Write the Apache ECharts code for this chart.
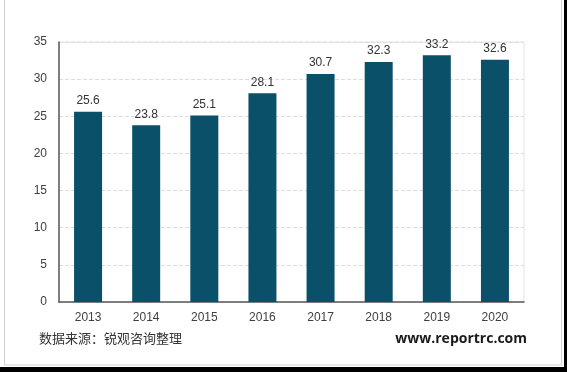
<!DOCTYPE html>
<html>
<head>
<meta charset="utf-8">
<script src="https://cdn.jsdelivr.net/npm/echarts@6/dist/echarts.min.js"></script>
<style>
html,body{margin:0;padding:0;background:#fff;}
#c{width:567px;height:372px;}
</style>
</head>
<body>
<div id="c"></div>
<script>
const categories = ['2013','2014','2015','2016','2017','2018','2019','2020'];
const values = [25.6, 23.8, 25.1, 28.1, 30.7, 32.3, 33.2, 32.6];
const yTicks = [0,5,10,15,20,25,30,35];
const sourceText = '数据来源：锐观咨询整理';
const siteText = 'www.reportrc.com';

const chart = echarts.init(document.getElementById('c'), null, {renderer:'canvas'});
chart.setOption({
  animation: false,
  backgroundColor: '#fff',
  grid: {left: 59, right: 43, top: 42, bottom: 70, show: true, borderColor: '#e3e3e3', borderWidth: 1},
  xAxis: {
    type: 'category', data: categories,
    axisLine: {lineStyle: {color: '#595959', width: 1.5}},
    axisTick: {show: false},
    axisLabel: {color: '#404040', fontSize: 12, fontFamily: 'Liberation Sans, Arial', margin: 10}
  },
  yAxis: {
    type: 'value', min: yTicks[0], max: yTicks[yTicks.length-1], interval: 5,
    axisLine: {show: true, lineStyle: {color: '#595959', width: 1.5}},
    axisTick: {show: false},
    axisLabel: {color: '#404040', fontSize: 12, fontFamily: 'Liberation Sans, Arial', margin: 12},
    splitLine: {lineStyle: {color: '#dcdcdc', type: 'dashed'}}
  },
  series: [{
    type: 'bar', data: values, barWidth: 28,
    itemStyle: {color: '#0b5069'},
    label: {show: true, position: 'top', distance: 5, color: '#333', fontSize: 12, fontFamily: 'Liberation Sans, Arial'}
  }],
  graphic: [
    {type: 'rect', shape: {x: 4.5, y: -2, width: 557, height: 367}, style: {fill: 'none', stroke: '#d0d0d0', lineWidth: 1}, z: 100},
    {type: 'rect', shape: {x: 0, y: 367, width: 567, height: 5}, style: {fill: '#000'}, z: 101},
    {type: 'rect', shape: {x: 564, y: 0, width: 3, height: 372}, style: {fill: '#000'}, z: 101},
    {type: 'text', left: 39, top: 332, style: {text: sourceText, fill: '#333', font: '13px "Noto Sans CJK SC"'}, z: 100},
    {type: 'text', right: 40, top: 332, style: {text: siteText, fill: '#1a1a1a', font: 'bold 14px "Open Sans", "Liberation Sans"'}, z: 100}
  ]
});
</script>
</body>
</html>
